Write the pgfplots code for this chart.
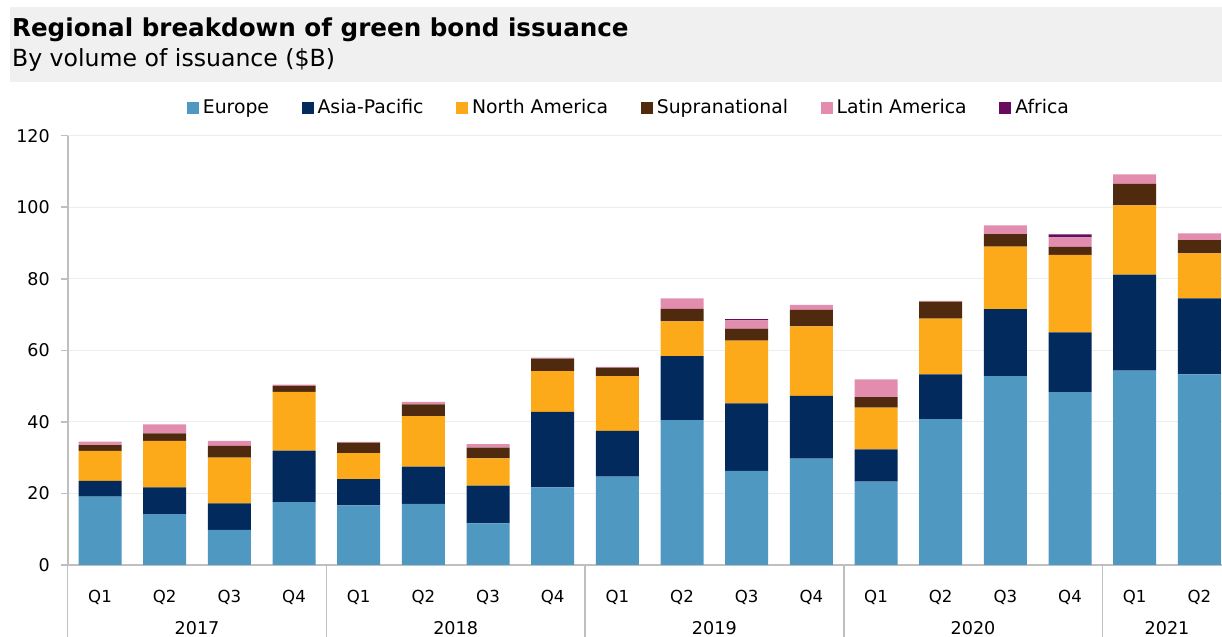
\documentclass[border=0pt]{standalone}
\usepackage{pgfplots}
\pgfplotsset{compat=1.18}
\usepackage{fontspec}
\setmainfont{DejaVu Sans}
\definecolor{cEU}{HTML}{4E98C2}
\definecolor{cAP}{HTML}{022A5C}
\definecolor{cNA}{HTML}{FCAA19}
\definecolor{cSU}{HTML}{4F2A0E}
\definecolor{cLA}{HTML}{E28DAD}
\definecolor{cAF}{HTML}{660B5F}
\definecolor{cAxis}{HTML}{BFBFBF}
\definecolor{cGrid}{HTML}{EDEDED}
\definecolor{cHead}{HTML}{F0F0F0}
\begin{document}
\begin{tikzpicture}
\useasboundingbox (-33.85pt,-36pt) rectangle (577.15pt,282.5pt);
\fill[cHead] (-28.85pt,241.5pt) rectangle (577.15pt,279pt);
\node[anchor=base west, inner sep=0pt, font=\bfseries\fontsize{12.3pt}{14pt}\selectfont] at (-28pt,264.2pt) {Regional breakdown of green bond issuance};
\node[anchor=base west, inner sep=0pt, font=\fontsize{11.8pt}{13pt}\selectfont] at (-28pt,249.2pt) {By volume of issuance (\$B)};
\begin{axis}[
  at={(0,0)}, anchor=south west,
  scale only axis, width=582pt, height=214.65pt,
  xmin=-0.5, xmax=17.5, ymin=0, ymax=120,
  ybar stacked, bar width=21.5pt,
  axis lines*=left,
  axis line style={-, draw=cAxis, line width=0.9pt},
  ytick={0,20,...,120},
  ymajorgrids, grid style={cGrid, line width=0.6pt},
  tick align=outside, major tick length=3.3pt,
  y tick style={draw=cAxis, line width=0.8pt},
  x tick style={draw=none},
  xtick={0,...,17},
  xticklabels={Q1,Q2,Q3,Q4,Q1,Q2,Q3,Q4,Q1,Q2,Q3,Q4,Q1,Q2,Q3,Q4,Q1,Q2},
  xticklabel style={anchor=base, yshift=-15.5pt, inner sep=0pt, font=\fontsize{8.3pt}{10pt}\selectfont},
  yticklabel style={anchor=east, inner sep=0pt, xshift=-5.5pt, font=\fontsize{8.75pt}{10pt}\selectfont},
  /pgf/number format/assume math mode=true,
  clip=false,
  legend columns=-1,
  legend style={draw=none, fill=none, at={(0.483,1.0645)}, anchor=center,
    font=\fontsize{9.4pt}{10pt}\selectfont,
    nodes={inner xsep=2pt, inner ysep=0pt},
    /tikz/every even column/.append style={column sep=14.3pt}},
  legend cell align=left,
]
\addplot[fill=cEU, draw=none, legend image code/.code={\fill[cEU] (0pt,-3pt) rectangle (6pt,3pt);}] coordinates {
(0,19.1) (1,14.2) (2,9.8) (3,17.6) (4,16.7) (5,17.1) (6,11.6) (7,21.7) (8,24.7) (9,40.5) (10,26.3) (11,29.7) (12,23.3) (13,40.8) (14,52.8) (15,48.3) (16,54.3) (17,53.3)};
\addplot[fill=cAP, draw=none, legend image code/.code={\fill[cAP] (0pt,-3pt) rectangle (6pt,3pt);}] coordinates {
(0,4.4) (1,7.5) (2,7.4) (3,14.4) (4,7.3) (5,10.4) (6,10.6) (7,21.1) (8,12.8) (9,17.9) (10,18.9) (11,17.6) (12,9.0) (13,12.5) (14,18.7) (15,16.7) (16,26.9) (17,21.2)};
\addplot[fill=cNA, draw=none, legend image code/.code={\fill[cNA] (0pt,-3pt) rectangle (6pt,3pt);}] coordinates {
(0,8.4) (1,13.0) (2,12.8) (3,16.4) (4,7.3) (5,14.1) (6,7.6) (7,11.4) (8,15.3) (9,9.7) (10,17.5) (11,19.4) (12,11.7) (13,15.6) (14,17.5) (15,21.7) (16,19.3) (17,12.6)};
\addplot[fill=cSU, draw=none, legend image code/.code={\fill[cSU] (0pt,-3pt) rectangle (6pt,3pt);}] coordinates {
(0,1.6) (1,2.1) (2,3.3) (3,1.7) (4,2.9) (5,3.3) (6,3.0) (7,3.5) (8,2.4) (9,3.5) (10,3.4) (11,4.6) (12,2.9) (13,4.7) (14,3.5) (15,2.2) (16,6.0) (17,3.7)};
\addplot[fill=cLA, draw=none, legend image code/.code={\fill[cLA] (0pt,-3pt) rectangle (6pt,3pt);}] coordinates {
(0,1.0) (1,2.5) (2,1.4) (3,0.3) (4,0.2) (5,0.7) (6,1.0) (7,0.3) (8,0.2) (9,2.9) (10,2.3) (11,1.4) (12,5.0) (13,0.2) (14,2.4) (15,2.7) (16,2.7) (17,1.9)};
\addplot[fill=cAF, draw=none, legend image code/.code={\fill[cAF] (0pt,-3pt) rectangle (6pt,3pt);}] coordinates {
(0,0) (1,0) (2,0) (3,0) (4,0) (5,0) (6,0) (7,0) (8,0) (9,0) (10,0.3) (11,0) (12,0) (13,0) (14,0) (15,0.8) (16,0) (17,0)};
\legend{Europe,Asia-Pacific,North America,Supranational,Latin America,Africa}
\draw[cAxis, line width=0.8pt] (axis cs:-0.5,0) -- ++(0pt,-36pt);
\draw[cAxis, line width=0.8pt] (axis cs:3.5,0) -- ++(0pt,-36pt);
\draw[cAxis, line width=0.8pt] (axis cs:7.5,0) -- ++(0pt,-36pt);
\draw[cAxis, line width=0.8pt] (axis cs:11.5,0) -- ++(0pt,-36pt);
\draw[cAxis, line width=0.8pt] (axis cs:15.5,0) -- ++(0pt,-36pt);
\node[anchor=base, inner sep=0pt, yshift=-35pt, font=\fontsize{8.8pt}{10pt}\selectfont] at (axis cs:1.5,0) {2017};
\node[anchor=base, inner sep=0pt, yshift=-35pt, font=\fontsize{8.8pt}{10pt}\selectfont] at (axis cs:5.5,0) {2018};
\node[anchor=base, inner sep=0pt, yshift=-35pt, font=\fontsize{8.8pt}{10pt}\selectfont] at (axis cs:9.5,0) {2019};
\node[anchor=base, inner sep=0pt, yshift=-35pt, font=\fontsize{8.8pt}{10pt}\selectfont] at (axis cs:13.5,0) {2020};
\node[anchor=base, inner sep=0pt, yshift=-35pt, font=\fontsize{8.8pt}{10pt}\selectfont] at (axis cs:16.5,0) {2021};
\end{axis}
\end{tikzpicture}
\end{document}
